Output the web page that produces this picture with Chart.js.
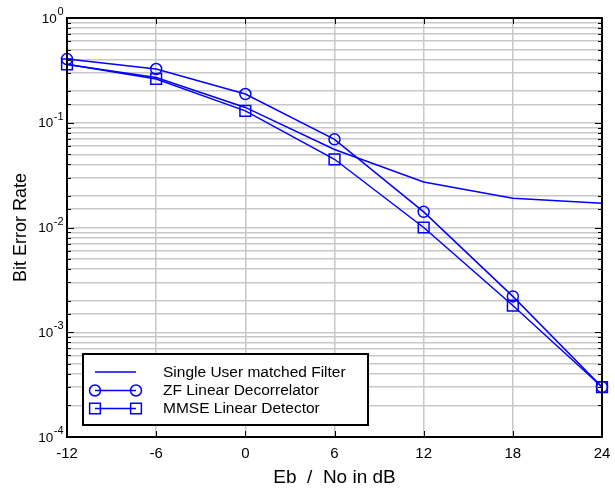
<!DOCTYPE html>
<html>
<head>
<meta charset="utf-8">
<title>Bit Error Rate vs Eb/No</title>
<script src="https://cdn.jsdelivr.net/npm/chart.js@4/dist/chart.umd.min.js"></script>
<style>
  html, body { margin: 0; padding: 0; background: #fff; }
  #wrap { width: 615px; height: 489px; position: relative; }
</style>
</head>
<body>
<div id="wrap"><canvas id="ber"></canvas></div>
<script>
// ---- Data ----
const ebNo       = [-12, -6, 0, 6, 12, 18, 24];
const singleUser = [0.36, 0.27, 0.14, 0.0556, 0.0272, 0.019, 0.017];
const zfDecorr   = [0.405, 0.326, 0.188, 0.0695, 0.0141, 0.0022, 0.0003];
const mmseDet    = [0.361, 0.262, 0.130, 0.0448, 0.0100, 0.0018, 0.0003];

const seriesLabels = ['Single User matched Filter', 'ZF Linear Decorrelator', 'MMSE Linear Detector'];
const xTicks = [-12, -6, 0, 6, 12, 18, 24];

const BLUE = '#0000ff';
const FONT = "'Liberation Sans', Arial, Helvetica, sans-serif";

function toPoints(ys) {
  return ebNo.map((x, i) => ({ x, y: ys[i] }));
}

// ---- Frame, inward ticks, y labels with superscripts, legend ----
const matlabFrame = {
  id: 'matlabFrame',
  afterDatasetsDraw(chart) {
    const { ctx, chartArea: a, scales } = chart;
    const xs = scales.x, ys = scales.y;
    ctx.save();

    // tick marks pointing into the plot
    ctx.strokeStyle = '#000';
    ctx.lineWidth = 1;
    ys.ticks.forEach(t => {
      const py = Math.round(ys.getPixelForValue(t.value)) + 0.5;
      const major = Math.abs(Math.log10(t.value) - Math.round(Math.log10(t.value))) < 1e-6;
      const len = major ? 7 : 4;
      ctx.beginPath();
      ctx.moveTo(a.left, py); ctx.lineTo(a.left + len, py);
      ctx.moveTo(a.right, py); ctx.lineTo(a.right - len, py);
      ctx.stroke();
    });
    xTicks.forEach(v => {
      const px = Math.round(xs.getPixelForValue(v)) + 0.5;
      ctx.beginPath();
      ctx.moveTo(px, a.bottom); ctx.lineTo(px, a.bottom - 6);
      ctx.moveTo(px, a.top); ctx.lineTo(px, a.top + 6);
      ctx.stroke();
    });

    // box
    ctx.lineWidth = 2;
    ctx.strokeRect(a.left, a.top, a.right - a.left, a.bottom - a.top);

    // y labels: 10^k
    ctx.fillStyle = '#000';
    ctx.textBaseline = 'alphabetic';
    for (let k = 0; k >= -4; k--) {
      const py = ys.getPixelForValue(Math.pow(10, k));
      const sup = String(k);
      ctx.font = '11px ' + FONT;
      ctx.textAlign = 'right';
      const supW = ctx.measureText(sup).width;
      ctx.fillText(sup, 63.5, py - 3);
      ctx.font = '13.5px ' + FONT;
      ctx.fillText('10', 63.5 - supW - 0.5, py + 4.5);
    }

    // legend box
    const lx = 83, ly = 354, lw = 285, lh = 71;
    ctx.fillStyle = '#fff';
    ctx.fillRect(lx, ly, lw, lh);
    ctx.strokeStyle = '#000';
    ctx.lineWidth = 2;
    ctx.strokeRect(lx, ly, lw, lh);

    const rows = [372, 390.5, 408.5];
    chart.data.datasets.forEach((ds, i) => {
      const ry = rows[i];
      ctx.strokeStyle = BLUE;
      ctx.lineWidth = 1.5;
      ctx.beginPath();
      ctx.moveTo(95, ry); ctx.lineTo(136, ry);
      ctx.stroke();
      if (ds.pointRadius > 0) {
        ctx.fillStyle = 'rgba(0,0,0,0)';
        ctx.strokeStyle = BLUE;
        [95, 136].forEach(px => {
          Chart.helpers.drawPoint(ctx, {
            pointStyle: ds.pointStyle, radius: ds.pointRadius,
            borderWidth: 1.5, rotation: 0
          }, px, ry);
        });
      }
      ctx.fillStyle = '#000';
      ctx.font = '15.5px ' + FONT;
      ctx.textAlign = 'left';
      ctx.textBaseline = 'middle';
      ctx.fillText(ds.label, 163, ry + 0.5);
    });
    ctx.restore();
  }
};

new Chart(document.getElementById('ber'), {
  type: 'line',
  data: {
    datasets: [
      {
        label: seriesLabels[0],
        data: toPoints(singleUser),
        borderColor: BLUE, borderWidth: 1.5,
        pointRadius: 0, fill: false, tension: 0, clip: false
      },
      {
        label: seriesLabels[1],
        data: toPoints(zfDecorr),
        borderColor: BLUE, borderWidth: 1.5,
        pointStyle: 'circle', pointRadius: 5.5,
        pointBorderColor: BLUE, pointBackgroundColor: 'rgba(0,0,0,0)',
        pointBorderWidth: 1.5, fill: false, tension: 0, clip: false
      },
      {
        label: seriesLabels[2],
        data: toPoints(mmseDet),
        borderColor: BLUE, borderWidth: 1.5,
        pointStyle: 'rect', pointRadius: 7.6,
        pointBorderColor: BLUE, pointBackgroundColor: 'rgba(0,0,0,0)',
        pointBorderWidth: 1.5, fill: false, tension: 0, clip: false
      }
    ]
  },
  options: {
    responsive: true,
    maintainAspectRatio: false,
    animation: false,
    layout: { padding: { top: 18, right: 13, left: 0, bottom: 0 } },
    plugins: {
      legend: { display: false },
      tooltip: { enabled: false }
    },
    scales: {
      x: {
        type: 'linear',
        min: -12, max: 24,
        afterBuildTicks: (s) => { s.ticks = xTicks.map(v => ({ value: v })); },
        afterFit: (s) => { s.height = 52; s.paddingLeft = 0; s.paddingRight = 0; },
        grid: { color: '#c8c8c8', lineWidth: 1.5, drawTicks: false },
        border: { display: false },
        ticks: {
          color: '#000', padding: 8,
          font: { family: FONT, size: 15 },
          maxRotation: 0
        },
        title: {
          display: true, text: 'Eb  /  No in dB', color: '#000',
          font: { family: FONT, size: 19 },
          padding: { top: 0, bottom: 0 }
        }
      },
      y: {
        type: 'logarithmic',
        min: 1e-4, max: 1,
        afterFit: (s) => { s.width = 67; },
        grid: { color: '#c8c8c8', lineWidth: 1.5, drawTicks: false },
        border: { display: false },
        ticks: { display: false },
        title: {
          display: true, text: 'Bit Error Rate', color: '#000',
          font: { family: FONT, size: 18 },
          padding: { top: 10, bottom: 0 }
        }
      }
    }
  },
  plugins: [matlabFrame]
});
</script>
</body>
</html>
